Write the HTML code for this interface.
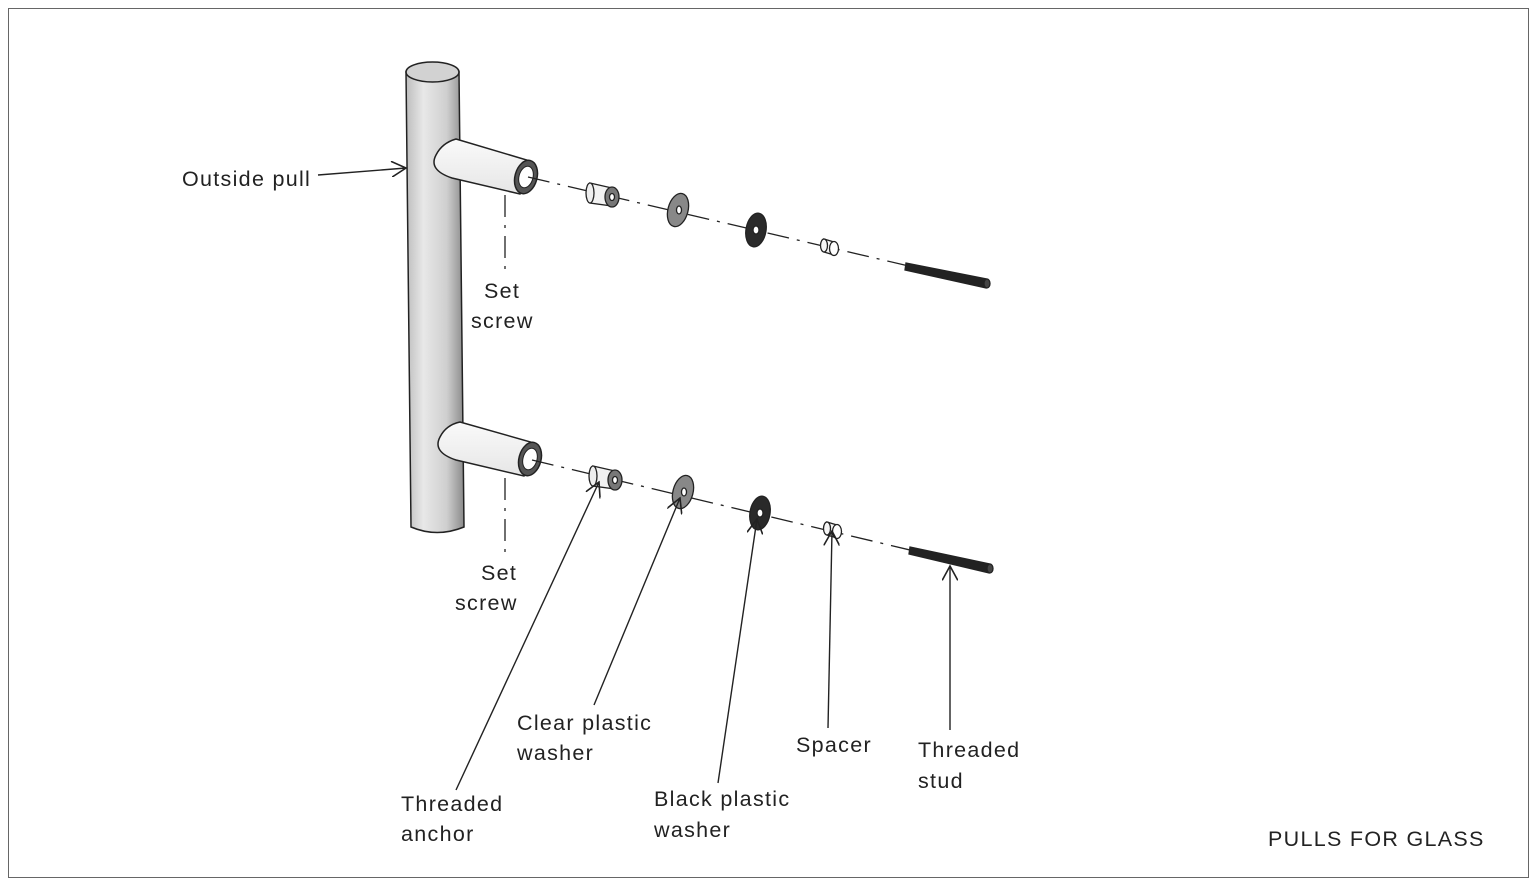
<!DOCTYPE html>
<html><head><style>
html,body{margin:0;padding:0;background:#fff}
svg{display:block}
text{font-family:"Liberation Sans",sans-serif;font-size:21.5px;fill:#222;letter-spacing:1.3px}
</style></head><body>
<svg width="1537" height="885" viewBox="0 0 1537 885" xmlns="http://www.w3.org/2000/svg">
<defs>
<marker id="a" viewBox="0 0 12 12" refX="11" refY="6" markerWidth="16" markerHeight="16" markerUnits="userSpaceOnUse" orient="auto">
<path d="M0,0 L11,6 L0,12" fill="none" stroke="#222" stroke-width="1.2"/></marker>
<linearGradient id="bar" x1="0" x2="1">
<stop offset="0" stop-color="#bdbdbd"/><stop offset="0.3" stop-color="#e8e8e8"/><stop offset="0.7" stop-color="#cfcfcf"/><stop offset="1" stop-color="#8a8a8a"/></linearGradient>
<linearGradient id="arm" x1="0" y1="0" x2="0" y2="1">
<stop offset="0" stop-color="#fafafa"/><stop offset="1" stop-color="#e6e6e6"/></linearGradient>
</defs>
<rect x="8.5" y="8.5" width="1520" height="869" fill="none" stroke="#666" stroke-width="1"/>
<path d="M406,72 L411,527 Q437,538 464,527 L459,72 Z" fill="url(#bar)" stroke="#222" stroke-width="1.5"/>
<ellipse cx="432.5" cy="72" rx="26.5" ry="10" fill="#d2d2d2" stroke="#222" stroke-width="1.5"/>
<path d="M456,139 L530,161 L520,194 L452,178 Q428,170 436,155 Q442,143 456,139 Z" fill="url(#arm)" stroke="#222" stroke-width="1.5"/>
<ellipse cx="526" cy="177" rx="11" ry="17" transform="rotate(15 526 177)" fill="#555" stroke="#222" stroke-width="1.5"/>
<ellipse cx="526" cy="177" rx="7" ry="11" transform="rotate(15 526 177)" fill="#fff" stroke="#222"/>
<path d="M460,422 L534,443 L524,476 L456,460 Q432,452 440,437 Q446,425 460,422 Z" fill="url(#arm)" stroke="#222" stroke-width="1.5"/>
<ellipse cx="530" cy="459" rx="11" ry="17" transform="rotate(15 530 459)" fill="#555" stroke="#222" stroke-width="1.5"/>
<ellipse cx="530" cy="459" rx="7" ry="11" transform="rotate(15 530 459)" fill="#fff" stroke="#222"/>
<g stroke="#222" stroke-width="1.3" fill="none" stroke-dasharray="22,8,3,8">
<line x1="528" y1="177" x2="990" y2="285"/>
<line x1="532" y1="460" x2="994" y2="570"/>
<line x1="505" y1="195" x2="505" y2="272"/>
<line x1="505" y1="478" x2="505" y2="556"/>
</g>
<g stroke="#222" stroke-width="1.3">
<g>
<path d="M590,183 L612,188 L612,206 L590,203 Z" fill="#f2f2f2"/>
<ellipse cx="590" cy="193" rx="4" ry="10" fill="#eee"/>
<ellipse cx="612" cy="197" rx="7" ry="10" fill="#777"/>
<ellipse cx="612" cy="197" rx="2.5" ry="3.5" fill="#fff"/>
<ellipse cx="678" cy="210" rx="10" ry="17" transform="rotate(15 678 210)" fill="#888"/>
<ellipse cx="679" cy="210" rx="2.5" ry="4" fill="#fff"/>
<ellipse cx="756" cy="230" rx="10" ry="17" transform="rotate(10 756 230)" fill="#2a2a2a"/>
<ellipse cx="756" cy="230" rx="3" ry="4" fill="#fff"/>
<path d="M824,239 L834,242 L834,255 L824,252 Z" fill="#f5f5f5"/>
<ellipse cx="824" cy="245.5" rx="3.5" ry="6.5" fill="#f5f5f5"/>
<ellipse cx="834" cy="248.5" rx="4.5" ry="7" fill="#fff"/>
<path d="M906,263 L987,279 L986,288 L905,270 Z" fill="#222"/>
<ellipse cx="987" cy="283.5" rx="3" ry="4.5" fill="#444"/>
</g>
<g>
<path d="M593,466 L615,471 L615,489 L593,486 Z" fill="#f2f2f2"/>
<ellipse cx="593" cy="476" rx="4" ry="10" fill="#eee"/>
<ellipse cx="615" cy="480" rx="7" ry="10" fill="#777"/>
<ellipse cx="615" cy="480" rx="2.5" ry="3.5" fill="#fff"/>
<ellipse cx="683" cy="492" rx="10" ry="17" transform="rotate(15 683 492)" fill="#888"/>
<ellipse cx="684" cy="492" rx="2.5" ry="4" fill="#fff"/>
<ellipse cx="760" cy="513" rx="10" ry="17" transform="rotate(10 760 513)" fill="#2a2a2a"/>
<ellipse cx="760" cy="513" rx="3" ry="4" fill="#fff"/>
<path d="M827,522 L837,525 L837,538 L827,535 Z" fill="#f5f5f5"/>
<ellipse cx="827" cy="528.5" rx="3.5" ry="6.5" fill="#f5f5f5"/>
<ellipse cx="837" cy="531.5" rx="4.5" ry="7" fill="#fff"/>
<path d="M910,547 L990,564 L989,573 L909,554 Z" fill="#222"/>
<ellipse cx="990" cy="568.5" rx="3" ry="4.5" fill="#444"/>
</g>
</g>
<g stroke="#222" stroke-width="1.4" fill="none" marker-end="url(#a)">
<line x1="318" y1="175" x2="406" y2="168"/>
<line x1="456" y1="790" x2="599" y2="482"/>
<line x1="594" y1="705" x2="680" y2="498"/>
<line x1="718" y1="783" x2="757" y2="519"/>
<line x1="828" y1="728" x2="832" y2="531"/>
<line x1="950" y1="730" x2="950" y2="566"/>
</g>
<text x="182" y="186">Outside pull</text>
<text x="484" y="298">Set</text>
<text x="471" y="328">screw</text>
<text x="481" y="580">Set</text>
<text x="455" y="610">screw</text>
<text x="517" y="730">Clear plastic</text>
<text x="517" y="760">washer</text>
<text x="401" y="811">Threaded</text>
<text x="401" y="841">anchor</text>
<text x="654" y="806">Black plastic</text>
<text x="654" y="837">washer</text>
<text x="796" y="752">Spacer</text>
<text x="918" y="757">Threaded</text>
<text x="918" y="788">stud</text>
<text x="1268" y="846">PULLS FOR GLASS</text>
</svg>
</body></html>
